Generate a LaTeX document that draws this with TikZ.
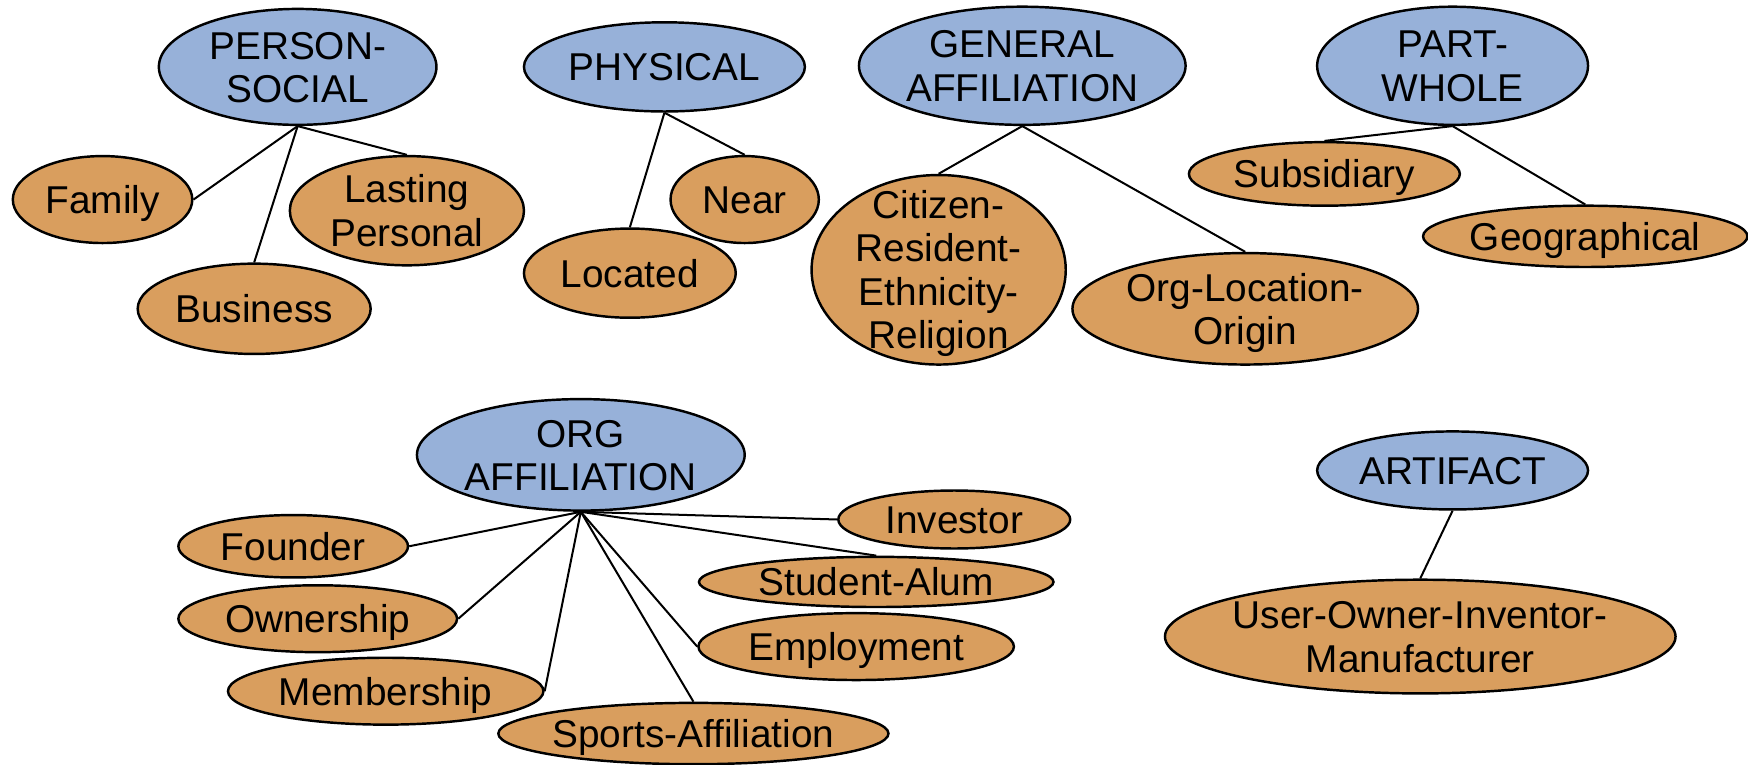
\documentclass[tikz,border=0pt]{standalone}
\usepackage{fontspec}
\setmainfont{Liberation Sans}
\usepackage{tikz}
\usetikzlibrary{shapes.geometric}
\definecolor{catblue}{HTML}{97B1D9}
\definecolor{suborange}{HTML}{D99E5E}
\tikzset{
    relnode/.style={ellipse, draw=black, line width=1.1pt, inner sep=-25pt,
        align=center, font=\fontsize{17.4}{19.5}\selectfont,
        text height=12.5pt, text depth=0pt},
    cat/.style={relnode, fill=catblue},
    sub/.style={relnode, fill=suborange},
    twolines/.style={text height=32pt},
    fourlines/.style={text height=71pt},
    link/.style={draw=black, line width=0.9pt}
}

\begin{document}
\begin{tikzpicture}[x=0.5pt, y=-0.5pt]
            \useasboundingbox (0,0) rectangle (1568,686);

            % PERSON-SOCIAL
            \node (ps) [cat, twolines, minimum width=124.5pt, minimum height=52pt] at (267,60) {PERSON-\\SOCIAL};
            \node (family) [sub, minimum width=80.5pt, minimum height=39pt] at (92,179) {Family};
            \node (lasting) [sub, twolines, minimum width=105pt, minimum height=49pt] at (365,189) {Lasting\\Personal};
            \node (business) [sub, minimum width=104.5pt, minimum height=40.5pt] at (228,277) {Business};

            % PHYSICAL
            \node (phys) [cat, minimum width=126pt, minimum height=40pt] at (596,60) {PHYSICAL};
            \node (near) [sub, minimum width=66.5pt, minimum height=39pt] at (668,179) {Near};
            \node (located) [sub, minimum width=95pt, minimum height=40pt] at (565,245) {Located};

            % GENERAL AFFILIATION
            \node (genaff) [cat, twolines, minimum width=146.5pt, minimum height=53pt] at (917,59) {GENERAL\\AFFILIATION};
            \node (citizen) [sub, fourlines, minimum width=114pt, minimum height=85pt] at (842,242) {Citizen-\\Resident-\\Ethnicity-\\Religion};
            \node (orgloc) [sub, twolines, minimum width=155pt, minimum height=50pt] at (1117,277) {Org-Location-\\Origin};

            % PART-WHOLE
            \node (partwhole) [cat, twolines, minimum width=121.5pt, minimum height=53pt] at (1303,59) {PART-\\WHOLE};
            \node (subsid) [sub, minimum width=121.5pt, minimum height=28.5pt] at (1188,156) {Subsidiary};
            \node (geo) [sub, minimum width=145.5pt, minimum height=27.5pt] at (1422,212) {Geographical};

            % ORG AFFILIATION
            \node (orgaff) [cat, twolines, minimum width=147pt, minimum height=50pt] at (521,408) {ORG\\AFFILIATION};
            \node (founder) [sub, minimum width=103pt, minimum height=28pt] at (263,490) {Founder};
            \node (ownership) [sub, minimum width=125pt, minimum height=30pt] at (285,555) {Ownership};
            \node (membership) [sub, minimum width=141.5pt, minimum height=30pt] at (346,620) {Membership};
            \node (sports) [sub, minimum width=175pt, minimum height=27.5pt] at (622,658) {Sports-Affiliation};
            \node (investor) [sub, minimum width=104pt, minimum height=26pt] at (856,466) {Investor};
            \node (student) [sub, minimum width=159pt, minimum height=22.5pt] at (786,522) {Student-Alum};
            \node (employment) [sub, minimum width=141.5pt, minimum height=30pt] at (768,580) {Employment};

            % ARTIFACT
            \node (artifact) [cat, minimum width=121.5pt, minimum height=35pt] at (1303,422) {ARTIFACT};
            \node (user) [sub, twolines, minimum width=229pt, minimum height=51pt] at (1274,571) {User-Owner-Inventor-\\Manufacturer};

            \draw[link] (ps.south) -- (family.east);
            \draw[link] (ps.south) -- (business.north);
            \draw[link] (ps.south) -- (lasting.north);
            \draw[link] (phys.south) -- (located.north);
            \draw[link] (phys.south) -- (near.north);
            \draw[link] (genaff.south) -- (citizen.north);
            \draw[link] (genaff.south) -- (orgloc.north);
            \draw[link] (partwhole.south) -- (subsid.north);
            \draw[link] (partwhole.south) -- (geo.north);
            \draw[link] (orgaff.south) -- (founder.east);
            \draw[link] (orgaff.south) -- (ownership.east);
            \draw[link] (orgaff.south) -- (membership.east);
            \draw[link] (orgaff.south) -- (sports.north);
            \draw[link] (orgaff.south) -- (employment.west);
            \draw[link] (orgaff.south) -- (student.north);
            \draw[link] (orgaff.south) -- (investor.west);
            \draw[link] (artifact.south) -- (user.north);
        \end{tikzpicture}
\end{document}
